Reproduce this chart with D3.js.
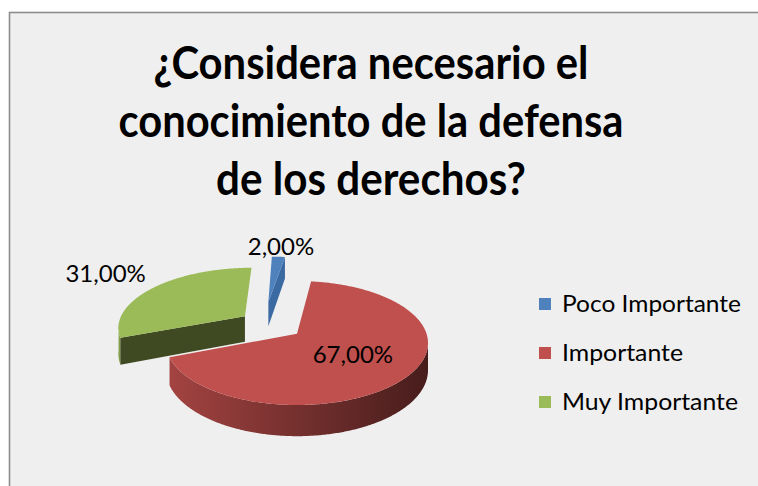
<!DOCTYPE html>
<html>
<head>
<meta charset="utf-8">
<script src="https://cdnjs.cloudflare.com/ajax/libs/d3/7.8.5/d3.min.js"></script>
<style>
    body { margin: 0; background: #ffffff; }
    svg { display: block; }
    text { font-family: Lato, "Open Sans", sans-serif; fill: #000; }
</style>
</head>
<body>
<svg id="chart" width="758" height="486"></svg>
<script>
// data
var categories = ['Poco Importante', 'Importante', 'Muy Importante'];
var values = [2, 67, 31];
var titleLines = ['¿Considera necesario el', 'conocimiento de la defensa', 'de los derechos?'];
var colors = ['#4f81bd', '#c0504d', '#9bbb59'];

// how far each slice is pulled out (pie units, u = right, v = towards viewer)
var explode = [[-0.24, -0.57], [0, 0], [-0.42, -0.30]];
var labelRadius = [1.3, 0.52, 1.6];

var W = 758, H = 486;
var cx = 297, cy = 343, rx = 131, ry = 62, persp = 0.15, thick = 26.5;
var k = rx * Math.sqrt(1 - persp * persp);

var locale = d3.formatLocale({decimal: ',', thousands: '.', grouping: [3], currency: ['', '']});
var fmt = locale.format('.2%');

var svg = d3.select('#chart');

// chart area
svg.append('rect')
    .attr('x', 9.5)
    .attr('y', 12.5)
    .attr('width', W + 20)
    .attr('height', H + 20)
    .attr('fill', '#efefef')
    .attr('stroke', '#8c8c8c')
    .attr('stroke-width', 1.6);

// title
var title = svg.append('g');
var titleWidths = [435, 505, 310];
titleLines.forEach(function (t, i) {
    title.append('text')
        .attr('x', 371)
        .attr('y', 79 + i * 58)
        .attr('text-anchor', 'middle')
        .attr('font-size', 46)
        .attr('font-weight', 'bold')
        .attr('textLength', titleWidths[i])
        .attr('lengthAdjust', 'spacingAndGlyphs')
        .text(t);
});

// perspective projection of a point on the pie plane
function proj(u, v, h) {
    var w = 1 - persp * v;
    return [cx + k * u / w, cy + ry * (v - persp) / w + h * thick / w];
}

function pt(off, a, r, h) {
    return proj(off[0] + r * Math.sin(a), off[1] - r * Math.cos(a), h);
}

function arcPts(off, a0, a1, h) {
    var pts = [], n = Math.max(2, Math.ceil(Math.abs(a1 - a0) / 0.01));
    for (var j = 0; j <= n; j++) {
        pts.push(pt(off, a0 + (a1 - a0) * j / n, 1, h));
    }
    return pts;
}

var line = d3.line().curve(d3.curveLinear);

var pie = d3.pie().sort(null).value(function (d) { return d; });
var arcs = pie(values);
arcs.forEach(function (d, i) { d.i = i; d.off = explode[i]; });

// silhouette angles of the cylinder
var sL = Math.acos(-persp), sR = 2 * Math.PI - sL;

var defs = svg.append('defs');
colors.forEach(function (c, i) {
    var g = defs.append('linearGradient')
        .attr('id', 'wall' + i)
        .attr('gradientUnits', 'userSpaceOnUse')
        .attr('x1', cx - rx).attr('x2', cx + rx)
        .attr('y1', 0).attr('y2', 0);
    g.append('stop').attr('offset', '0%').attr('stop-color', d3.color(c).darker(0.45));
    g.append('stop').attr('offset', '45%').attr('stop-color', d3.color(c).darker(1.3));
    g.append('stop').attr('offset', '100%').attr('stop-color', d3.color(c).darker(2.8));
});

var faceColors = ['#3b6aa3', '#7a302e', '#3f4a22'];

// far slices first
var order = arcs.slice().sort(function (a, b) { return a.off[1] - b.off[1]; });

var pieG = svg.append('g');
order.forEach(function (d) {
    var g = pieG.append('g');
    var a0 = d.startAngle, a1 = d.endAngle, off = d.off;

    // outer wall
    var w0 = Math.max(a0, sL), w1 = Math.min(a1, sR);
    if (w1 > w0) {
        var pts = arcPts(off, w0, w1, 0).concat(arcPts(off, w1, w0, 1));
        g.append('path')
            .attr('d', line(pts) + 'Z')
            .attr('fill', 'url(#wall' + d.i + ')');
    }

    // cut faces
    if (Math.sin(a0) < -1e-6) {
        g.append('path')
            .attr('d', line([pt(off, a0, 0, 0), pt(off, a0, 1, 0), pt(off, a0, 1, 1), pt(off, a0, 0, 1)]) + 'Z')
            .attr('fill', faceColors[d.i]);
    }
    if (Math.sin(a1) > 1e-6) {
        g.append('path')
            .attr('d', line([pt(off, a1, 0, 0), pt(off, a1, 1, 0), pt(off, a1, 1, 1), pt(off, a1, 0, 1)]) + 'Z')
            .attr('fill', faceColors[d.i]);
    }

    // top
    var top = [pt(off, 0, 0, 0)].concat(arcPts(off, a0, a1, 0));
    g.append('path')
        .attr('d', line(top) + 'Z')
        .attr('fill', colors[d.i]);
});

// data labels
arcs.forEach(function (d) {
    var mid = (d.startAngle + d.endAngle) / 2;
    var p = pt(d.off, mid, labelRadius[d.i], 0);
    svg.append('text')
        .attr('x', p[0])
        .attr('y', p[1])
        .attr('text-anchor', 'middle')
        .attr('dominant-baseline', 'central')
        .attr('font-size', 24)
        .text(fmt(d.value / 100));
});

// legend
var legendTextW = [179, 121, 176];
var legend = svg.selectAll('.legend')
    .data(categories)
    .enter()
    .append('g')
    .attr('class', 'legend')
    .attr('transform', function (d, i) {
        return 'translate(539,' + (312 + i * 49) + ')';
    });

legend.append('rect')
    .attr('x', 0)
    .attr('y', -14)
    .attr('width', 12)
    .attr('height', 12)
    .attr('fill', function (d, i) { return colors[i]; });

legend.append('text')
    .attr('x', 23)
    .attr('y', 0)
    .attr('font-size', 23)
    .attr('textLength', function (d, i) { return legendTextW[i]; })
    .attr('lengthAdjust', 'spacingAndGlyphs')
    .text(function (d) { return d; });
</script>
</body>
</html>
